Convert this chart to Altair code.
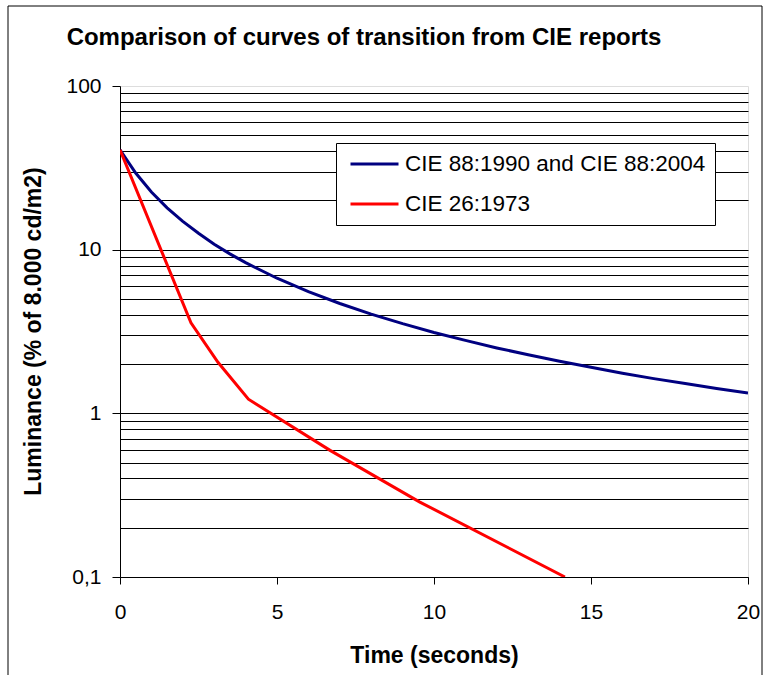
import altair as alt
import pandas as pd

# ---- data ----
series_names = ["CIE 88:1990 and CIE 88:2004", "CIE 26:1973"]
series_colors = ["#000080", "#FF0000"]

t_cie88 = [0, 0.5, 1, 1.5, 2, 2.5, 3, 3.5, 4, 5, 6, 7, 8, 9, 10, 11, 12, 13, 14, 15, 16, 17, 18, 19, 20]
v_cie88 = [40.7, 29.4, 22.5, 18.0, 14.9, 12.6, 10.8, 9.43, 8.33, 6.69, 5.54, 4.69, 4.04, 3.53, 3.12,
           2.79, 2.51, 2.28, 2.08, 1.91, 1.76, 1.63, 1.52, 1.42, 1.33]

t_cie26 = [0, 2.26, 3.12, 4.09, 6.69, 9.55, 14.17]
v_cie26 = [40.7, 3.57, 2.05, 1.22, 0.594, 0.287, 0.1]

x_ticks = [0, 5, 10, 15, 20]
y_major = [0.1, 1, 10, 100]
y_grid = [0.1, 0.2, 0.3, 0.4, 0.5, 0.6, 0.7, 0.8, 0.9,
          1, 2, 3, 4, 5, 6, 7, 8, 9,
          10, 20, 30, 40, 50, 60, 70, 80, 90, 100]

rows = []
for i, (t, v) in enumerate(zip(t_cie88, v_cie88)):
    rows.append({"t": t, "v": v, "series": series_names[0], "idx": i})
for i, (t, v) in enumerate(zip(t_cie26, v_cie26)):
    rows.append({"t": t, "v": v, "series": series_names[1], "idx": i})
df = pd.DataFrame(rows)

FONT = "Liberation Sans"
W, H = 628, 491
PAD_L, PAD_T = 120, 86

major_test = "indexof([0.1, 1, 10, 100], datum.value) >= 0"

lines = alt.Chart(df).mark_line(strokeWidth=3, clip=True).encode(
    x=alt.X(
        "t:Q",
        scale=alt.Scale(domain=[0, 20], nice=False, zero=False),
        axis=alt.Axis(
            values=x_ticks, grid=False, title="Time (seconds)",
            labelFont=FONT, labelFontSize=21, labelColor="black", labelPadding=17,
            labelFlush=False, labelOverlap=False,
            tickColor="black", tickSize=7, tickWidth=1,
            domainColor="black", domainWidth=1,
            titleFont=FONT, titleFontSize=23, titleFontWeight="bold", titleColor="black",
            titleBaseline="alphabetic", titleY=85,
        ),
    ),
    y=alt.Y(
        "v:Q",
        scale=alt.Scale(type="log", domain=[0.1, 100], nice=False),
        axis=alt.Axis(
            values=y_grid, grid=True, gridColor="black", gridWidth=1,
            gridOpacity={"condition": {"test": "datum.value == 100", "value": 0}, "value": 1},
            title="Luminance (% of 8.000 cd/m2)",
            labelExpr="datum.value == 0.1 ? '0,1' : (indexof([1, 10, 100], datum.value) >= 0 ? format(datum.value, 'd') : '')",
            labelFont=FONT, labelFontSize=21, labelColor="black", labelPadding=11,
            labelFlush=False, labelOverlap=False,
            tickColor="black", tickSize=8, tickWidth=1,
            tickOpacity={"condition": {"test": major_test, "value": 1}, "value": 0},
            domainColor="black", domainWidth=1,
            titleFont=FONT, titleFontSize=23, titleFontWeight="bold", titleColor="black",
            titleBaseline="alphabetic", titleAlign="center", titleX=-80, titleY=245,
        ),
    ),
    color=alt.Color(
        "series:N",
        scale=alt.Scale(domain=series_names, range=series_colors),
        legend=alt.Legend(
            title=None, orient="none", legendX=216, legendY=57,
            fillColor="white", strokeColor="black", padding=9.5,
            symbolType="M-0.65,0H4.15", symbolSize=400, symbolStrokeWidth=3, symbolOpacity=1,
            labelFont=FONT, labelFontSize=22.5, labelColor="black", labelLimit=600,
            labelOffset=36.5, rowPadding=17,
        ),
    ),
    order="idx:Q",
)

frame = alt.Chart(pd.DataFrame({"k": [0]})).mark_rect(
    fill="transparent", stroke="black", strokeWidth=1
).encode(
    x=alt.value(-112), x2=alt.value(642), y=alt.value(-80), y2=alt.value(650)
)

chart = alt.layer(lines, frame).properties(
    width=W, height=H,
    autosize="none",
    padding={"left": PAD_L, "top": PAD_T, "right": 771 - PAD_L - W, "bottom": 675 - PAD_T - H},
    title=alt.Title(
        "Comparison of curves of transition from CIE reports",
        font=FONT, fontSize=24, fontWeight="bold", color="black",
        anchor="middle", dx=-70, offset=-63, baseline="alphabetic",
    ),
).configure_view(
    fill="#C0C0C0", stroke="#808080", strokeWidth=1
).configure(background="white")

chart.save("out.html", embed_options={"renderer": "svg", "actions": False})
